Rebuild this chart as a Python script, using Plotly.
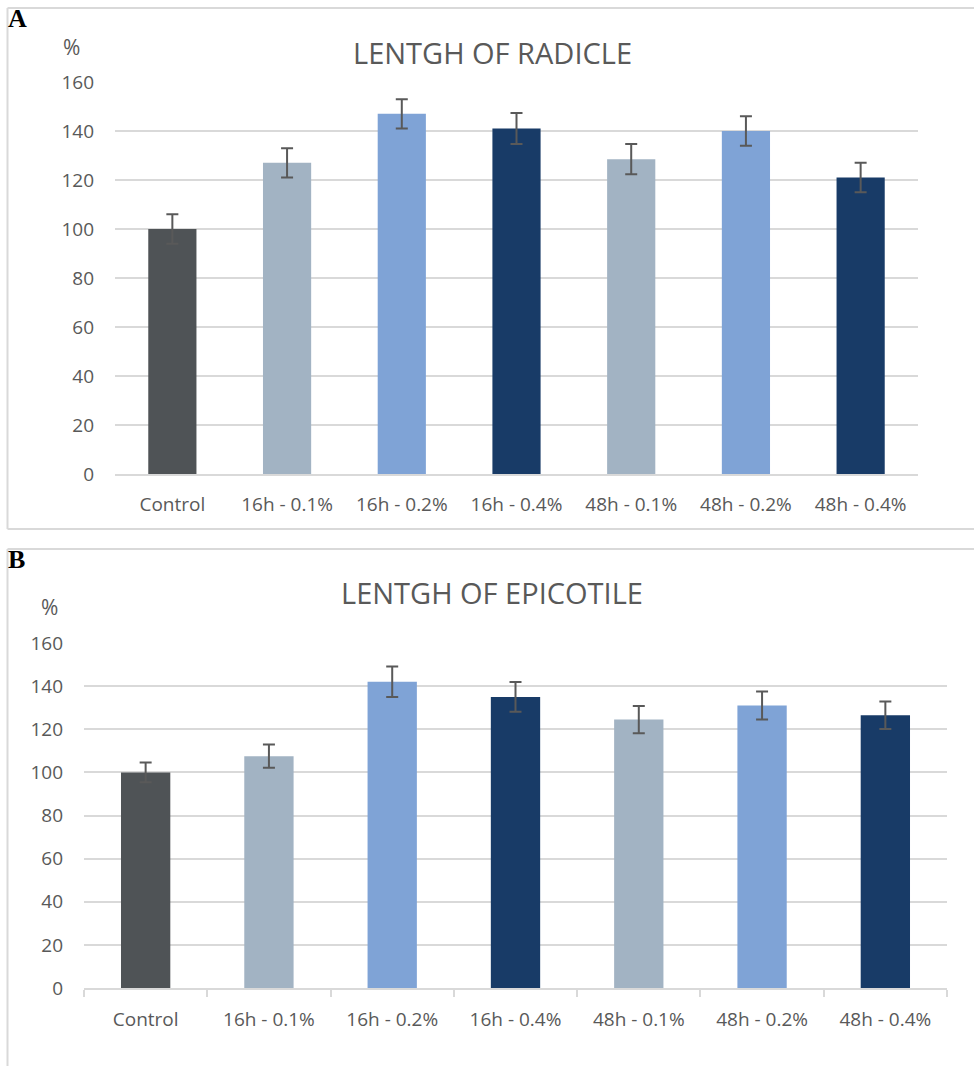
import plotly.graph_objects as go

# Treatments shown on both panels
categories = ["Control", "16h - 0.1%", "16h - 0.2%", "16h - 0.4%",
              "48h - 0.1%", "48h - 0.2%", "48h - 0.4%"]

# Panel A: radicle length (% of control) and error
radicle_values = [100, 127, 147, 141, 128.5, 140, 121]
radicle_errors = [6, 6, 6, 6.3, 6.2, 6, 6]

# Panel B: epicotyl length (% of control) and error
epicotile_values = [100, 107.5, 142, 135, 124.5, 131, 126.5]
epicotile_errors = [4.6, 5.4, 7.1, 6.9, 6.3, 6.5, 6.4]

y_ticks = [0, 20, 40, 60, 80, 100, 120, 140, 160]

bar_colors = ["#4f5356", "#a2b3c3", "#7fa3d6", "#183b67",
              "#a2b3c3", "#7fa3d6", "#183b67"]

W, H = 974, 1066
FONT = "Open Sans"
TEXT = "#595959"
GRID = "#d9d9d9"


def px(x):
    return x / W


def py(y):
    return 1 - y / H


fig = go.Figure()

err_style = dict(type="data", color=TEXT, thickness=2, width=6, visible=True)

fig.add_trace(go.Bar(
    x=categories, y=radicle_values, width=0.42,
    marker=dict(color=bar_colors, line=dict(width=0)),
    error_y=dict(array=radicle_errors, **err_style),
    xaxis="x", yaxis="y", showlegend=False, hoverinfo="x+y",
))

fig.add_trace(go.Bar(
    x=categories, y=epicotile_values, width=0.40,
    marker=dict(color=bar_colors, line=dict(width=0)),
    error_y=dict(array=epicotile_errors, **err_style),
    xaxis="x2", yaxis="y2", showlegend=False, hoverinfo="x+y",
))

yaxis_common = dict(
    range=[0, 160], tickvals=y_ticks, showgrid=True, gridcolor=GRID,
    gridwidth=2, zeroline=False, showline=False, ticks="", automargin=False,
    tickfont=dict(family=FONT, size=19, color=TEXT),
    ticklabelstandoff=20, fixedrange=True,
)
xaxis_common = dict(
    showgrid=False, showline=True, linecolor=GRID, linewidth=2, automargin=False,
    tickfont=dict(family=FONT, size=19, color=TEXT), fixedrange=True,
)

fig.update_layout(
    template="none",
    width=W, height=H,
    margin=dict(l=0, r=0, t=0, b=0, pad=0, autoexpand=False),
    showlegend=False,
    paper_bgcolor="white", plot_bgcolor="white",
    xaxis=dict(domain=[px(115), px(918)], anchor="y", ticks="",
               ticklabelstandoff=12, **xaxis_common),
    yaxis=dict(domain=[py(474), py(82)], anchor="x", **yaxis_common),
    xaxis2=dict(domain=[px(84), px(947)], anchor="y2", ticks="outside",
                tickson="boundaries", ticklen=7, tickwidth=2, tickcolor=GRID,
                ticklabelstandoff=13, **xaxis_common),
    yaxis2=dict(domain=[py(988), py(643)], anchor="x2", **yaxis_common),
)

# Panel frames (top, left and bottom edges)
frame = dict(type="line", xref="paper", yref="paper",
             line=dict(color=GRID, width=2))
shapes = [
    dict(x0=px(7.5), x1=1.0, y0=py(8), y1=py(8), **frame),
    dict(x0=px(7.5), x1=px(7.5), y0=py(8), y1=py(529), **frame),
    dict(x0=px(7.5), x1=1.0, y0=py(529), y1=py(529), **frame),
    dict(x0=px(7.5), x1=1.0, y0=py(549), y1=py(549), **frame),
    dict(x0=px(7.5), x1=px(7.5), y0=py(549), y1=0.0, **frame),
]
fig.update_layout(shapes=shapes)

ann = []
# Panel letters
ann.append(dict(text="<b>A</b>", x=px(6), y=py(19), xanchor="left", yanchor="middle",
                font=dict(family="Liberation Serif", size=26, color="black")))
ann.append(dict(text="<b>B</b>", x=px(6), y=py(559), xanchor="left", yanchor="middle",
                font=dict(family="Liberation Serif", size=26, color="black")))
# Titles
ann.append(dict(text="LENTGH OF RADICLE", x=px(492), y=py(52), xanchor="center",
                yanchor="middle", font=dict(family=FONT, size=29, color=TEXT)))
ann.append(dict(text="LENTGH OF EPICOTILE", x=px(492), y=py(592), xanchor="center",
                yanchor="middle", font=dict(family=FONT, size=29, color=TEXT)))
# Unit labels
ann.append(dict(text="%", x=px(71), y=py(47), xanchor="center", yanchor="middle",
                font=dict(family=FONT, size=21, color=TEXT)))
ann.append(dict(text="%", x=px(49), y=py(607), xanchor="center", yanchor="middle",
                font=dict(family=FONT, size=21, color=TEXT)))

for a in ann:
    a.update(xref="paper", yref="paper", showarrow=False)
fig.update_layout(annotations=ann)

fig.write_html("out.html")
